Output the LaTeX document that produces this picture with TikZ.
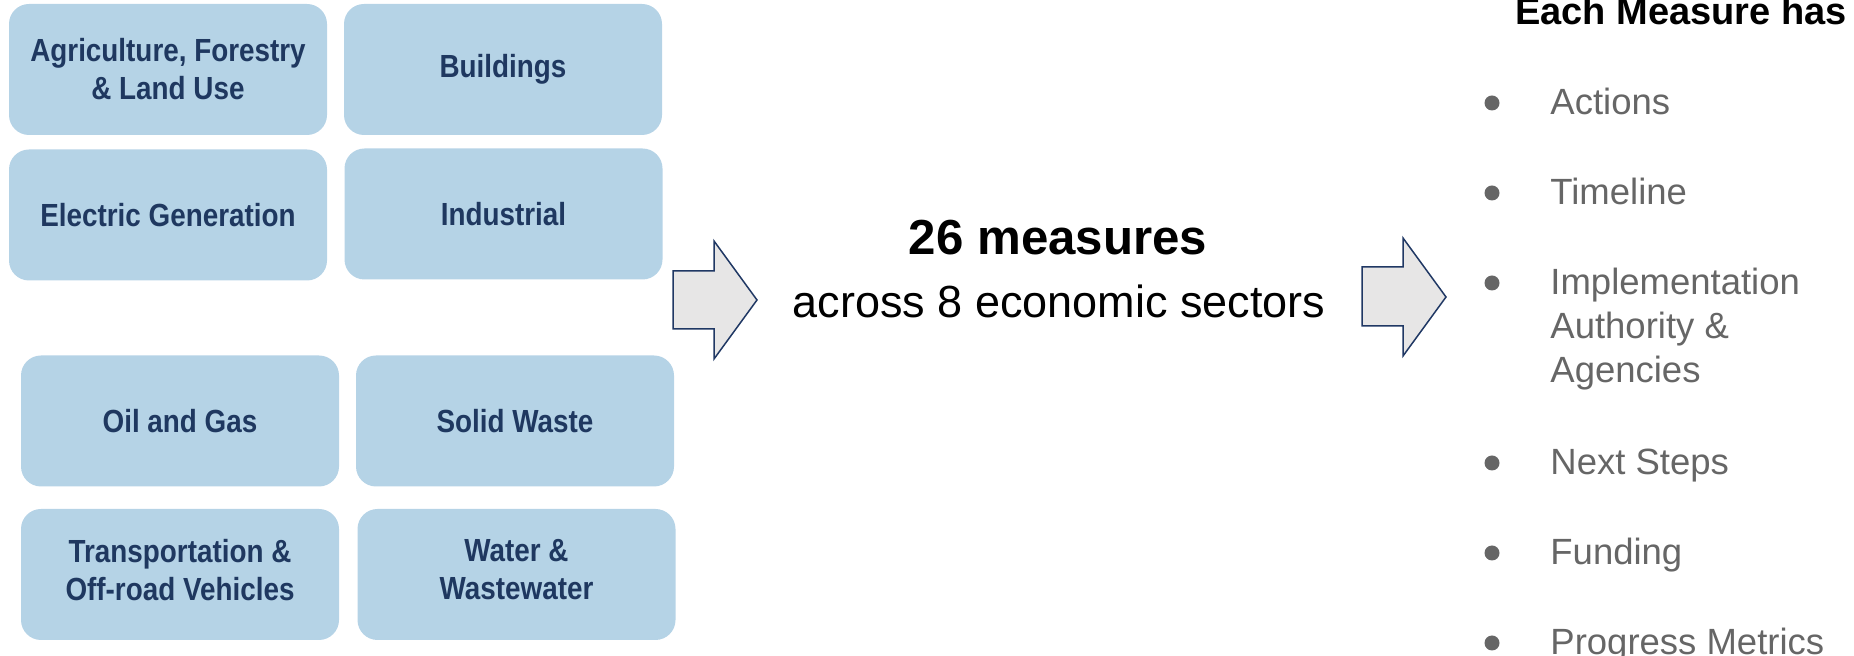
\documentclass[tikz,border=0pt]{standalone}
\usepackage{fontspec}
\setmainfont{Liberation Sans}
\newfontfamily\boxfont[FakeStretch=0.87]{Liberation Sans}
\definecolor{boxfill}{RGB}{181,211,230}
\definecolor{navy}{RGB}{31,56,96}
\definecolor{arrowline}{RGB}{32,56,100}
\definecolor{arrowfill}{RGB}{231,230,230}
\definecolor{listgray}{RGB}{102,102,102}
\tikzset{
  sector/.style={rounded corners=10pt, fill=boxfill, text=navy, inner sep=0pt,
    minimum width=159pt, minimum height=65.5pt, align=center,
    font=\boxfont\bfseries\fontsize{16pt}{19pt}\selectfont},
  blockarrow/.style={draw=arrowline, fill=arrowfill, line width=0.75pt, line join=miter},
  dot/.style={circle, fill=listgray, inner sep=0pt, minimum size=7.5pt},
  item/.style={anchor=base west, inner sep=0pt, text=listgray,
    font=\fontsize{18.25pt}{20pt}\selectfont},
  bigtext/.style={anchor=base, inner sep=0pt}
}
\begin{document}
\begin{tikzpicture}[x=0.5pt, y=-0.5pt]
\useasboundingbox (0,0) rectangle (1854,656);
% sector boxes
\node[sector] (agri)  at (168,69.5)   {Agriculture, Forestry\\\& Land Use};
\node[sector] (build) at (503,69.5)   {Buildings};
\node[sector] (elec)  at (168,215)    {Electric Generation};
\node[sector] (indus) at (503.5,214)  {Industrial};
\node[sector] (oil)   at (180,421)    {Oil and Gas};
\node[sector] (solid) at (515,421)    {Solid Waste};
\node[sector, text depth=5pt] (trans) at (180,574.5)  {Transportation \&\\Off-road Vehicles};
\node[sector, text depth=5pt] (water) at (516.5,574.5){Water \&\\Wastewater};
% block arrows
\coordinate (a1s) at (673,271);
\draw[blockarrow] (a1s) -- (714,271) -- (714,241) -- (757,300) -- (714,359) -- (714,329) -- (673,329) -- cycle;
\coordinate (a2s) at (1362,267);
\draw[blockarrow] (a2s) -- (1403,267) -- (1403,238) -- (1446,297) -- (1403,356) -- (1403,326) -- (1362,326) -- cycle;
% middle text
\node[bigtext, font=\bfseries\fontsize{24.6pt}{28pt}\selectfont] (m26) at (1058,255) {26 measures};
\node[bigtext, font=\fontsize{22.5pt}{26pt}\selectfont] (across) at (1059,318) {across 8 economic sectors};
% right list
\node[bigtext, font=\bfseries\fontsize{19pt}{22pt}\selectfont] (hdr) at (1681,25) {Each Measure has};
\node[dot] (d1) at (1492,103) {};
\node[item] (t1) at (1550,115) {Actions};
\node[dot] (d2) at (1492,193) {};
\node[item] (t2) at (1550,205) {Timeline};
\node[dot] (d3) at (1492,283) {};
\node[item] (t3a) at (1550,295) {Implementation};
\node[item] (t3b) at (1550,339) {Authority \&};
\node[item] (t3c) at (1550,383) {Agencies};
\node[dot] (d4) at (1492,463) {};
\node[item] (t4) at (1550,475) {Next Steps};
\node[dot] (d5) at (1492,553) {};
\node[item] (t5) at (1550,565) {Funding};
\node[dot] (d6) at (1492,643) {};
\node[item] (t6) at (1550,655) {Progress Metrics};
\end{tikzpicture}
\end{document}
